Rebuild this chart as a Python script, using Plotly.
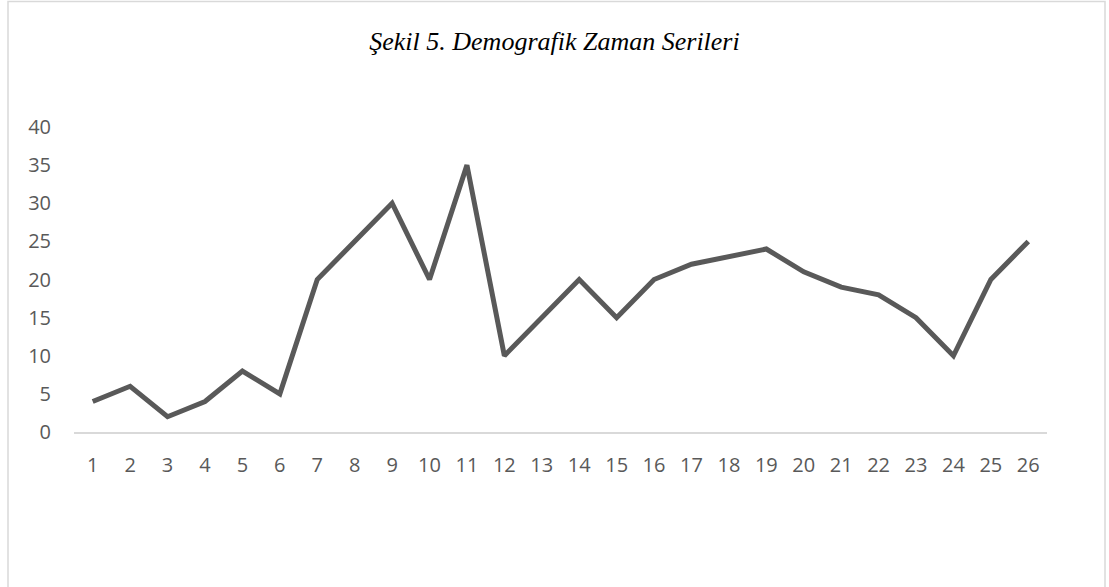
import plotly.graph_objects as go

categories = [str(i) for i in range(1, 27)]
values = [4, 6, 2, 4, 8, 5, 20, 25, 30, 20, 35, 10, 15, 20, 15, 20, 22, 23, 24, 21, 19, 18, 15, 10, 20, 25]
y_ticks = [0, 5, 10, 15, 20, 25, 30, 35, 40]
title_text = "Şekil 5. Demografik Zaman Serileri"

W, H = 1109, 587
L, R, T, B = 74, 62, 127, 155
pw, ph = W - L - R, H - T - B

fig = go.Figure()
fig.add_trace(go.Scatter(
    x=categories, y=values, mode="lines",
    line=dict(color="#595959", width=5),
    showlegend=False, hoverinfo="x+y",
))

# outer chart border
fig.add_shape(type="rect", xref="paper", yref="paper",
              x0=(8 - L) / pw, x1=(1105 - L) / pw,
              y0=(H - B - 600) / ph, y1=(H - B - 1.5) / ph,
              line=dict(color="#d9d9d9", width=1.5), fillcolor="rgba(0,0,0,0)", layer="below")

fig.update_layout(
    width=W, height=H,
    margin=dict(l=L, r=R, t=T, b=B),
    paper_bgcolor="white", plot_bgcolor="white",
    title=dict(text=title_text, x=0.5, xanchor="center", xref="container",
               y=1 - 41 / H, yanchor="middle", yref="container",
               font=dict(family="Liberation Serif", size=26, color="#000000", style="italic")),
    font=dict(family="Open Sans", size=20, color="#595959"),
    xaxis=dict(type="category", range=[-0.5, 25.5], showgrid=False, zeroline=False,
               showline=True, linecolor="#d9d9d9", linewidth=1.5,
               ticks="outside", ticklen=14, tickcolor="rgba(0,0,0,0)",
               tickfont=dict(family="Open Sans", size=20, color="#595959")),
    yaxis=dict(range=[0, 40], tickvals=y_ticks, showgrid=False, zeroline=False,
               showline=False, ticks="outside", ticklen=18, tickcolor="rgba(0,0,0,0)",
               tickfont=dict(family="Open Sans", size=20, color="#595959")),
)

fig.write_html("out.html",
               config={"displayModeBar": False},
               post_script="document.body.style.margin='0';document.body.style.overflow='hidden';")
